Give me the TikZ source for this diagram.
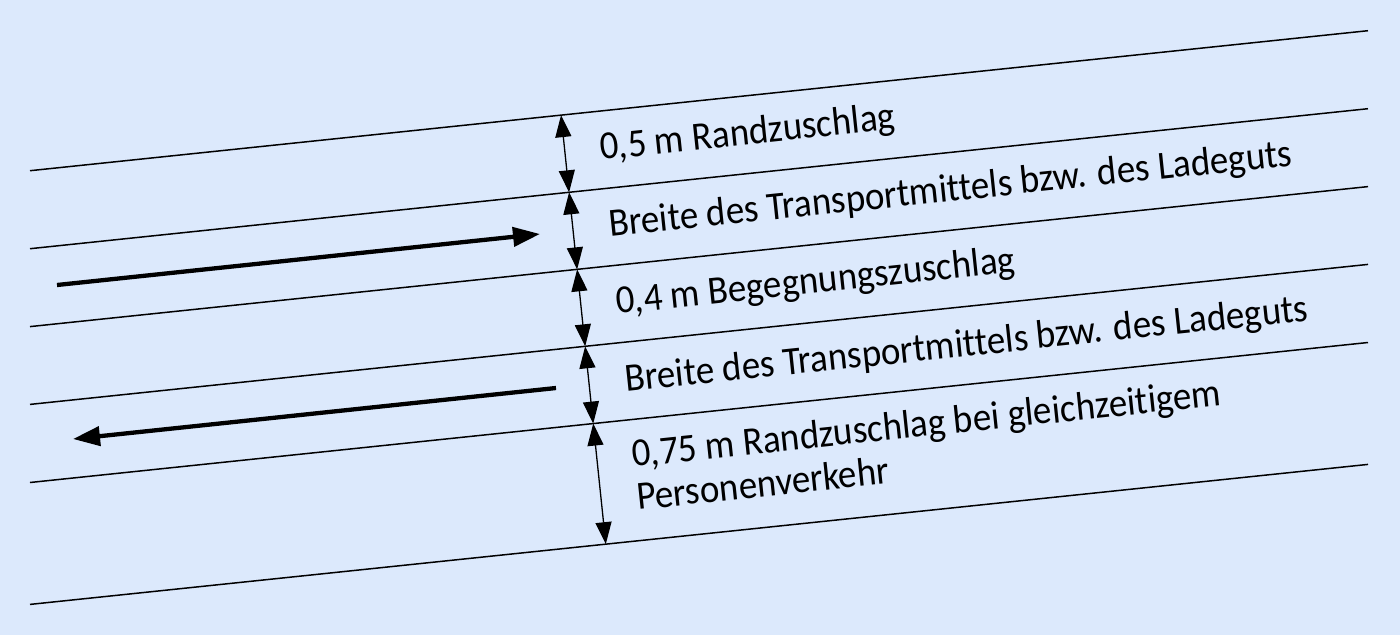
\documentclass[tikz,border=0pt]{standalone}
\usepackage{graphicx}
\usepackage{fontspec}
\setmainfont{Carlito}[Ligatures={NoCommon,NoRare,NoDiscretionary}]
\usetikzlibrary{arrows.meta,calc}
\definecolor{bg}{RGB}{220,233,252}
\newlength\reflen
\newcommand\tallt[1]{\scalebox{1}[1.08]{#1}}
\AtBeginDocument{%
  \settowidth{\reflen}{\fontsize{10pt}{12pt}\selectfont Breite des Transportmittels bzw. des Ladeguts}%
  \pgfmathsetmacro\fsz{10*686.7/\reflen}%
  \pgfmathsetmacro\fszb{1.2*\fsz}%
  \global\let\fsz\fsz
  \global\let\fszb\fszb}
\begin{document}
\begin{tikzpicture}[x=1pt,y=-1pt,
  lane/.style={line width=1.5pt},
  dimarrow/.style={line width=1.3pt,{Triangle[length=22pt,width=16pt]}-{Triangle[length=22pt,width=16pt]}},
  bigarrow/.style={line width=4.3pt,-{Triangle[length=27pt,width=19pt]}},
  lbl/.style={anchor=base west,inner sep=0pt,rotate=5.973,font=\fontsize{\fsz pt}{\fszb pt}\selectfont}]
\fill[bg] (0,0) rectangle (1400,635);
\useasboundingbox (0,0) rectangle (1400,635);
\foreach \i/\y in {1/170.7,2/248.7,3/326.6,4/404.4,5/482.5,6/604.4}{
  \coordinate (L\i-a) at (30,\y);
  \coordinate (L\i-b) at (1368,\y-140);
  \draw[lane] (L\i-a) -- (L\i-b);
}
\coordinate (D0) at ($(L1-a)!0.3969!(L1-b)$);
\coordinate (D1) at ($(L2-a)!(D0)!(L2-b)$);
\coordinate (D2) at ($(L3-a)!(D1)!(L3-b)$);
\coordinate (D3) at ($(L4-a)!(D2)!(L4-b)$);
\coordinate (D4) at ($(L5-a)!(D3)!(L5-b)$);
\coordinate (D5) at ($(L6-a)!(D4)!(L6-b)$);
\draw[dimarrow] (D0) -- (D1);
\draw[dimarrow] (D1) -- (D2);
\draw[dimarrow] (D2) -- (D3);
\draw[dimarrow] (D3) -- (D4);
\draw[dimarrow] (D4) -- (D5);
\coordinate (R0) at (57,285);
\coordinate (R1) at (540,234);
\draw[bigarrow] (R0) -- (R1);
\coordinate (Q0) at (556,388);
\coordinate (Q1) at (73,439);
\draw[bigarrow] (Q0) -- (Q1);
\node[lbl] (t1) at (601,160) {\tallt{0,5 m Randzuschlag}};
\node[lbl] (t2) at (610,237) {\tallt{Breite des Transportmittels bzw. des Ladeguts}};
\node[lbl] (t3) at (617,314) {\tallt{0,4 m Begegnungszuschlag}};
\node[lbl] (t4) at (626,392) {\tallt{Breite des Transportmittels bzw. des Ladeguts}};
\node[lbl] (t5) at (633,467) {\tallt{0,75 m Randzuschlag bei gleichzeitigem}};
\node[lbl] (t6) at (638,510) {\tallt{Personenverkehr}};
\end{tikzpicture}
\end{document}
